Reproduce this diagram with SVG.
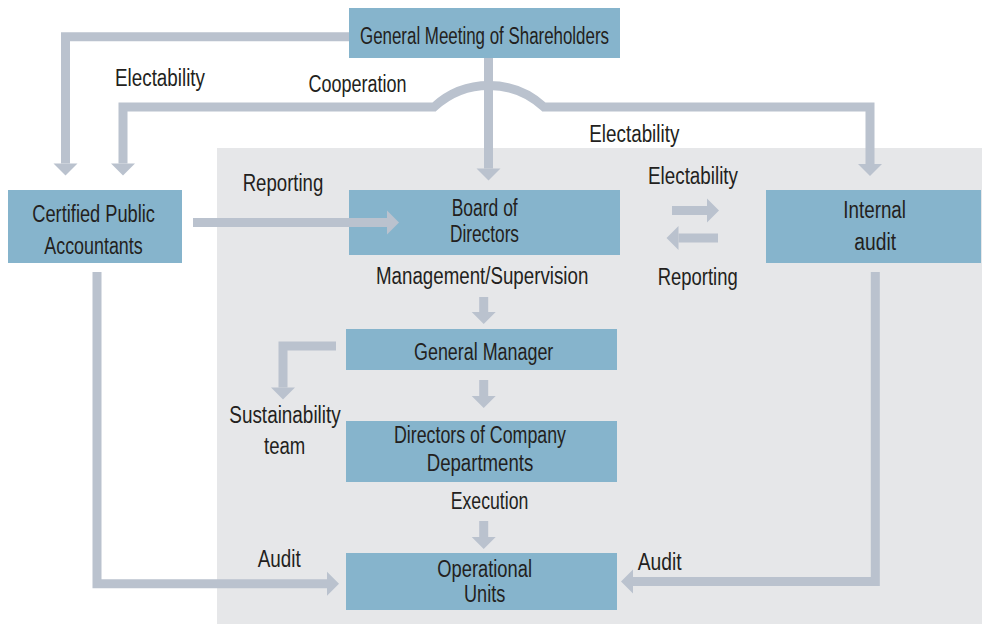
<svg xmlns="http://www.w3.org/2000/svg" width="982" height="624" viewBox="0 0 982 624">
  <style>
    .box { fill: #86b4cc; }
    .lbl { font-family: "Liberation Sans Narrow", "Liberation Sans", "DejaVu Sans Condensed", sans-serif; font-size: 23px; fill: #231f20; }
    .wire { fill: none; stroke: #bac2ce; stroke-width: 9; stroke-linejoin: miter; stroke-linecap: butt; }
  </style>
  <defs>
    <marker id="head" markerUnits="userSpaceOnUse" markerWidth="13" markerHeight="24" refX="0" refY="12" orient="auto-start-reverse" overflow="visible">
      <path d="M0,0 L12,12 L0,24 Z" fill="#bac2ce"/>
    </marker>
  </defs>

  <!-- company panel -->
  <rect x="217" y="148" width="765" height="476" fill="#e6e7e9"/>

  <g id="shareholders">
    <rect class="box" x="349" y="8" width="271" height="50"/>
    <text class="lbl" x="360" y="43.5" textLength="249" lengthAdjust="spacingAndGlyphs">General Meeting of Shareholders</text>
  </g>

  <g id="accountants">
    <rect class="box" x="8" y="190" width="174" height="73"/>
    <text class="lbl" x="32.3" y="221.7" textLength="122.7" lengthAdjust="spacingAndGlyphs">Certified Public</text>
    <text class="lbl" x="44.3" y="254.3" textLength="98.4" lengthAdjust="spacingAndGlyphs">Accountants</text>
  </g>

  <g id="board">
    <rect class="box" x="349" y="190" width="271" height="65"/>
    <text class="lbl" x="451.7" y="215.7" textLength="66" lengthAdjust="spacingAndGlyphs">Board of</text>
    <text class="lbl" x="450" y="241.7" textLength="69" lengthAdjust="spacingAndGlyphs">Directors</text>
  </g>

  <g id="internal-audit">
    <rect class="box" x="766" y="190" width="215" height="73"/>
    <text class="lbl" x="843.3" y="218.3" textLength="62.7" lengthAdjust="spacingAndGlyphs">Internal</text>
    <text class="lbl" x="854.3" y="250" textLength="41.7" lengthAdjust="spacingAndGlyphs">audit</text>
  </g>

  <g id="general-manager">
    <rect class="box" x="346" y="329" width="271" height="41"/>
    <text class="lbl" x="414" y="360" textLength="139.3" lengthAdjust="spacingAndGlyphs">General Manager</text>
  </g>

  <g id="department-directors">
    <rect class="box" x="346" y="421" width="271" height="61"/>
    <text class="lbl" x="394" y="442.7" textLength="172" lengthAdjust="spacingAndGlyphs">Directors of Company</text>
    <text class="lbl" x="426.7" y="471" textLength="106.6" lengthAdjust="spacingAndGlyphs">Departments</text>
  </g>

  <g id="operational-units">
    <rect class="box" x="346" y="553" width="271" height="57"/>
    <text class="lbl" x="437.3" y="576.7" textLength="94.7" lengthAdjust="spacingAndGlyphs">Operational</text>
    <text class="lbl" x="464" y="602.3" textLength="41.3" lengthAdjust="spacingAndGlyphs">Units</text>
  </g>

  <g id="sustainability-team">
    <text class="lbl" x="229.3" y="423.3" textLength="111.4" lengthAdjust="spacingAndGlyphs">Sustainability</text>
    <text class="lbl" x="264" y="454" textLength="41.3" lengthAdjust="spacingAndGlyphs">team</text>
  </g>

  <g id="connectors">
    <!-- shareholders elect the accountants -->
    <path class="wire" d="M349,36.7 H65.5 V163.5" marker-end="url(#head)"/>
    <!-- cooperation / election line hopping over the board arrow -->
    <path class="wire" d="M123,163.5 V107 H434 A81,81 0 0 1 544,107 H870 V164" marker-start="url(#head)" marker-end="url(#head)"/>
    <!-- shareholders to board -->
    <path class="wire" d="M488.5,58 V168.5" marker-end="url(#head)"/>
    <!-- accountants report to board -->
    <path class="wire" d="M193,222.5 H387" marker-end="url(#head)"/>
    <!-- board / internal audit exchange -->
    <path class="wire" d="M672,210.5 H707" marker-end="url(#head)"/>
    <path class="wire" d="M718,238 H678.5" marker-end="url(#head)"/>
    <!-- chain of command -->
    <path class="wire" d="M483.7,297 V312" marker-end="url(#head)"/>
    <path class="wire" d="M483.7,380 V396" marker-end="url(#head)"/>
    <path class="wire" d="M483.7,521 V537" marker-end="url(#head)"/>
    <!-- general manager to sustainability team -->
    <path class="wire" d="M336,346 H283 V387.5" marker-end="url(#head)"/>
    <!-- audits of operational units -->
    <path class="wire" d="M97,272 V583.7 H327" marker-end="url(#head)"/>
    <path class="wire" d="M875.3,272 V581.5 H633" marker-end="url(#head)"/>

    <text class="lbl" x="115" y="86" textLength="90" lengthAdjust="spacingAndGlyphs">Electability</text>
    <text class="lbl" x="308.5" y="91.5" textLength="98" lengthAdjust="spacingAndGlyphs">Cooperation</text>
    <text class="lbl" x="589.3" y="141.7" textLength="90" lengthAdjust="spacingAndGlyphs">Electability</text>
    <text class="lbl" x="648" y="184" textLength="90" lengthAdjust="spacingAndGlyphs">Electability</text>
    <text class="lbl" x="242.7" y="190.7" textLength="80.6" lengthAdjust="spacingAndGlyphs">Reporting</text>
    <text class="lbl" x="657.7" y="284.5" textLength="80" lengthAdjust="spacingAndGlyphs">Reporting</text>
    <text class="lbl" x="376" y="284" textLength="212.3" lengthAdjust="spacingAndGlyphs">Management/Supervision</text>
    <text class="lbl" x="450.7" y="509.3" textLength="77.6" lengthAdjust="spacingAndGlyphs">Execution</text>
    <text class="lbl" x="257.7" y="567.3" textLength="43" lengthAdjust="spacingAndGlyphs">Audit</text>
    <text class="lbl" x="637.7" y="570" textLength="44" lengthAdjust="spacingAndGlyphs">Audit</text>
  </g>
</svg>
